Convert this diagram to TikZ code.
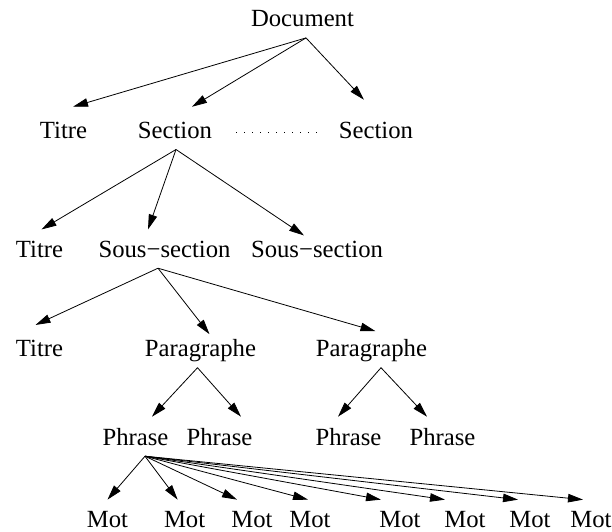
\documentclass[tikz,border=0pt]{standalone}
\usepackage{fontspec}
\setmainfont{Liberation Serif}
\usetikzlibrary{arrows.meta}
\tikzset{
  lbl/.style={anchor=base, inner xsep=0pt, inner ysep=11pt, text depth=0pt,
    font=\fontsize{24.7}{29}\selectfont},
  arr/.style={-{Triangle[length=15pt,width=8.5pt]}, line width=0.8pt},
  dots/.style={line width=1.2pt, dash pattern=on 1.2pt off 6.8pt}
}
\begin{document}
\begin{tikzpicture}[x=1pt,y=-1pt]
\useasboundingbox (0,0) rectangle (612,531);
\node [lbl] (doc) at (302.5,26.7) {Document};
\node [lbl] (ta)  at (63.5,138.3) {Titre};
\node [lbl] (sa)  at (175,138.3) {Section};
\node [lbl] (sb)  at (376,138.3) {Section};
\node [lbl] (tb)  at (39.5,257) {Titre};
\node [lbl] (ssa) at (164.5,257) {Sous−section};
\node [lbl] (ssb) at (317,257) {Sous−section};
\node [lbl] (tc)  at (39.5,356.5) {Titre};
\node [lbl] (pa)  at (200.5,356.5) {Paragraphe};
\node [lbl] (pb)  at (371.5,356.5) {Paragraphe};
\node [lbl] (ph1) at (135.5,445) {Phrase};
\node [lbl] (ph2) at (219.5,445) {Phrase};
\node [lbl] (ph3) at (348.5,445) {Phrase};
\node [lbl] (ph4) at (442.5,445) {Phrase};
\node [lbl] (m1) at (107.5,527) {Mot};
\node [lbl] (m2) at (184.6,527) {Mot};
\node [lbl] (m3) at (252,527) {Mot};
\node [lbl] (m4) at (310,527) {Mot};
\node [lbl] (m5) at (400,527) {Mot};
\node [lbl] (m6) at (465,527) {Mot};
\node [lbl] (m7) at (530,527) {Mot};
\node [lbl] (m8) at (591,527) {Mot};
% document
\draw [arr] ([xshift=3.5pt]doc.south) -- ([xshift=9.5pt,yshift=4pt]ta.north);
\draw [arr] ([xshift=3.5pt]doc.south) -- ([xshift=17pt,yshift=4pt]sa.north);
\draw [arr] ([xshift=3.5pt]doc.south) -- ([xshift=-12pt,yshift=11pt]sb.north);
\draw [dots, shorten <=24pt, shorten >=22pt] ([yshift=-2pt]sa.east) -- ([yshift=-2pt]sb.west);
% section
\draw [arr] ([xshift=1pt]sa.south) -- ([xshift=2pt]tb.north);
\draw [arr] ([xshift=1pt]sa.south) -- ([xshift=-16.5pt]ssa.north);
\draw [arr] ([xshift=1pt]sa.south) -- ([xshift=-13pt,yshift=-6pt]ssb.north);
% sous-section
\draw [arr] ([xshift=-6.5pt]ssa.south) -- ([xshift=-4pt,yshift=4pt]tc.north);
\draw [arr] ([xshift=-6.5pt]ssa.south) -- ([xshift=9pt,yshift=-6pt]pa.north);
\draw [arr] ([xshift=-6.5pt]ssa.south) -- ([xshift=4pt,yshift=-3pt]pb.north);
% paragraphes
\draw [arr] ([xshift=-3pt]pa.south) -- ([xshift=16.5pt]ph1.north);
\draw [arr] ([xshift=-3pt]pa.south) -- ([xshift=21.5pt]ph2.north);
\draw [arr] ([xshift=9.5pt]pb.south) -- ([xshift=-10.5pt]ph3.north);
\draw [arr] ([xshift=9.5pt]pb.south) -- ([xshift=-15.5pt]ph4.north);
% phrase
\draw [arr] ([xshift=9.5pt]ph1.south) -- (m1.north);
\draw [arr] ([xshift=9.5pt]ph1.south) -- ([xshift=-7pt]m2.north);
\draw [arr] ([xshift=9.5pt]ph1.south) -- ([xshift=-15pt]m3.north);
\draw [arr] ([xshift=9.5pt]ph1.south) -- ([xshift=-2pt]m4.north);
\draw [arr] ([xshift=9.5pt]ph1.south) -- ([xshift=-19pt]m5.north);
\draw [arr] ([xshift=9.5pt]ph1.south) -- ([xshift=-20pt]m6.north);
\draw [arr] ([xshift=9.5pt]ph1.south) -- ([xshift=-12pt]m7.north);
\draw [arr] ([xshift=9.5pt]ph1.south) -- ([xshift=-8pt]m8.north);
\end{tikzpicture}
\end{document}
